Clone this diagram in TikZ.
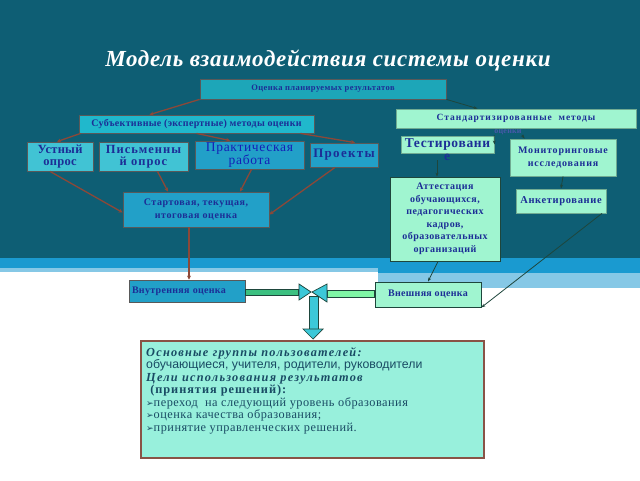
\documentclass[tikz,border=0pt]{standalone}
\usepackage{fontspec}
\setmainfont{Liberation Serif}
\newfontfamily\arialfont{Liberation Sans}
\newfontfamily\dingfont{DejaVu Sans}
\usetikzlibrary{arrows.meta}

\definecolor{slidebg}{RGB}{14,94,116}
\definecolor{stripeblue}{RGB}{26,154,208}
\definecolor{stripelight}{RGB}{134,200,230}
\definecolor{boxcyan}{RGB}{32,184,204}
\definecolor{boxdeep}{RGB}{34,160,200}
\definecolor{boxmint}{RGB}{160,245,208}
\definecolor{boxtext}{RGB}{28,46,150}
\definecolor{arrowbrown}{RGB}{140,72,56}
\definecolor{arrowdark}{RGB}{30,70,60}
\definecolor{usersfill}{RGB}{152,240,220}
\definecolor{userstext}{RGB}{25,75,100}
\definecolor{barcyan}{RGB}{60,200,216}
\definecolor{bargreen}{RGB}{60,192,128}

\newcommand{\boxfont}[2]{\bfseries\fontsize{#1}{#1}\selectfont\addfontfeatures{LetterSpace=#2}}

\begin{document}
\begin{tikzpicture}[x=1pt,y=-1pt]
\tikzset{
 box/.style={draw=black!65, line width=0.8pt, inner sep=1pt, align=center, text=boxtext, font=\boxfont{9}{0}},
 cyanbox/.style={box, fill=boxcyan},
 mintbox/.style={box, fill=boxmint, draw=arrowdark},
 brownarrow/.style={draw=arrowbrown, line width=1.3pt, -{Stealth[length=4pt,width=4pt]}},
 darkarrow/.style={draw=arrowdark, line width=0.8pt, -{Stealth[length=4pt,width=3pt]}},
 blockbar/.style={draw=arrowdark, line width=0.7pt}
}
\useasboundingbox (0,0) rectangle (640,480);

% slide background
\fill[slidebg] (0,0) rectangle (640,258);
\fill[stripeblue] (0,258) rectangle (640,268);
\fill[stripelight] (0,268) rectangle (378,272);
\fill[stripeblue] (378,268) rectangle (640,273);
\fill[stripelight] (378,273) rectangle (640,288);

\node[text=white, font=\bfseries\itshape\fontsize{23}{26}\selectfont\addfontfeatures{LetterSpace=3}] (title) at (328,60) {Модель взаимодействия системы оценки};

% upper boxes
\node[cyanbox, fill=boxcyan!90!black, minimum width=246pt, minimum height=20pt, font=\boxfont{8.5}{5}] (plan) at (323,89) {Оценка планируемых результатов};
\node[cyanbox, minimum width=235pt, minimum height=18pt, font=\boxfont{10}{3}] (subj) at (196.5,124) {Субъективные (экспертные) методы оценки};
\node[mintbox, draw=boxmint!70!black, minimum width=240pt, minimum height=19pt, font=\boxfont{9.5}{10}] (std) at (516,118.5) {Стандартизированные\ \ методы};
\node[text=boxtext!80, font=\boxfont{8}{3}, inner sep=0pt] (stdlow) at (508,132) {оценки};

\node[cyanbox, fill=boxcyan!85!white, minimum width=66pt, minimum height=29pt, font=\boxfont{12.5}{2}] (oral) at (60,156.5) {Устный\\[-1pt]опрос};
\node[cyanbox, fill=boxcyan!85!white, minimum width=89pt, minimum height=29pt, font=\boxfont{12.5}{8}] (written) at (143.5,156.5) {Письменны\\[-1pt]й опрос};
\node[cyanbox, fill=boxdeep, minimum width=109pt, minimum height=28pt, text=boxtext!70!blue, font=\fontsize{13.5}{12}\selectfont\addfontfeatures{LetterSpace=5}] (practice) at (249.5,155) {Практическая\\работа};
\node[cyanbox, fill=boxdeep, minimum width=68pt, minimum height=24pt, font=\boxfont{13}{10}] (projects) at (344,155) {Проекты};
\node[cyanbox, fill=boxdeep, minimum width=146pt, minimum height=35pt, font=\boxfont{10}{6}] (start) at (196,209.5) {Стартовая, текущая,\\[3pt]итоговая оценка};

\node[mintbox, draw=boxmint!70!black, minimum width=93pt, minimum height=17pt, font=\boxfont{13.5}{5}] (test) at (447.5,144.5) {Тестировани};
\node[text=boxtext, font=\boxfont{13.5}{5}, inner sep=0pt] (teste) at (447,157) {е};
\node[mintbox, draw=boxmint!70!black, minimum width=106pt, minimum height=37pt, font=\boxfont{10}{8}] (monitor) at (563,157.5) {Мониторинговые\\[3pt]исследования};
\node[mintbox, minimum width=110pt, minimum height=84pt, font=\boxfont{10}{5}] (attest) at (445,219) {Аттестация\\[2.5pt]обучающихся,\\[2.5pt]педагогических\\[2.5pt]кадров,\\[2.5pt]образовательных\\[2.5pt]организаций};
\node[mintbox, draw=boxmint!70!black, minimum width=90pt, minimum height=24pt, font=\boxfont{10.5}{6}] (survey) at (561,201) {Анкетирование};

% lower boxes
\node[cyanbox, fill=boxdeep, minimum width=116pt, minimum height=22pt, align=left, text width=110pt, font=\boxfont{10}{3}] (inner) at (187,291) {Внутренняя оценка};
\node[mintbox, minimum width=106pt, minimum height=25pt, font=\boxfont{10}{3}] (outer) at (428,294.5) {Внешняя оценка};

\node[draw=arrowbrown!80!gray, line width=1.6pt, fill=usersfill, minimum width=343pt, minimum height=117pt] (users) at (312.5,399.5) {};
\node[anchor=north west, inner sep=0pt, align=left, text=userstext, font=\fontsize{12.3}{12.5}\selectfont] (userstext) at (146,347)
 {{\bfseries\itshape\addfontfeatures{LetterSpace=10}Основные группы пользователей:}\\
  {\arialfont обучающиеся, учителя, родители, руководители}\\
  {\bfseries\itshape\addfontfeatures{LetterSpace=10}Цели использования результатов}\\
  {\bfseries\addfontfeatures{LetterSpace=8}\ (принятия решений):}\\
  {\addfontfeatures{LetterSpace=4}{\dingfont\fontsize{9}{9}\selectfont ➢}переход\ \ на следующий уровень образования}\\
  {\addfontfeatures{LetterSpace=4}{\dingfont\fontsize{9}{9}\selectfont ➢}оценка качества образования;}\\
  {\addfontfeatures{LetterSpace=4}{\dingfont\fontsize{9}{9}\selectfont ➢}принятие управленческих решений.}};

% connectors
\draw[brownarrow] (plan.south west) -- ([xshift=71pt]subj.north west);
\draw[darkarrow] (plan.south east) -- ([xshift=82pt]std.north west);
\draw[brownarrow] ([xshift=2pt]subj.south west) -- ([xshift=-3pt]oral.north);
\draw[brownarrow] (subj.south) -- ([xshift=-19.5pt]practice.north);
\draw[brownarrow] ([xshift=-14pt]subj.south east) -- ([xshift=11pt]projects.north);
\draw[brownarrow] ([xshift=-10pt]oral.south) -- ([yshift=-3pt]start.west);
\draw[brownarrow] ([xshift=14pt]written.south) -- ([xshift=-28pt]start.north);
\draw[brownarrow] ([xshift=2pt]practice.south) -- ([xshift=44pt]start.north);
\draw[brownarrow] ([xshift=-9pt]projects.south) -- ([yshift=-5pt]start.east);
\draw[brownarrow] ([xshift=-7pt]start.south) -- ([xshift=2pt]inner.north);

\draw[darkarrow] (stdlow.south west) -- (test.east);
\draw[darkarrow] (stdlow.south east) -- ([xshift=15pt]monitor.north west);
\draw[darkarrow] ([xshift=-10pt]teste.south) -- ([xshift=-8pt]attest.north);
\draw[darkarrow] (monitor.south) -- (survey.north);
\draw[darkarrow] ([xshift=-7pt]attest.south) -- (outer.north);
\draw[darkarrow] ([xshift=41pt]survey.south) -- (outer.south east);

% block arrows to the users box
\filldraw[blockbar, fill=bargreen] (inner.east |- 0,289) rectangle (298,295);
\filldraw[blockbar, fill=barcyan] (299,284) -- (311,292) -- (299,300) -- cycle;
\filldraw[blockbar, fill=boxmint!80!green] (outer.west |- 0,290.5) rectangle (327,297.5);
\filldraw[blockbar, fill=barcyan] (327,284) -- (312,292) -- (327,302) -- cycle;
\filldraw[blockbar, fill=barcyan] (309,296) rectangle (318,329);
\filldraw[blockbar, fill=barcyan] (303,329) -- (323,329) -- (313,339) -- cycle;
\end{tikzpicture}
\end{document}
